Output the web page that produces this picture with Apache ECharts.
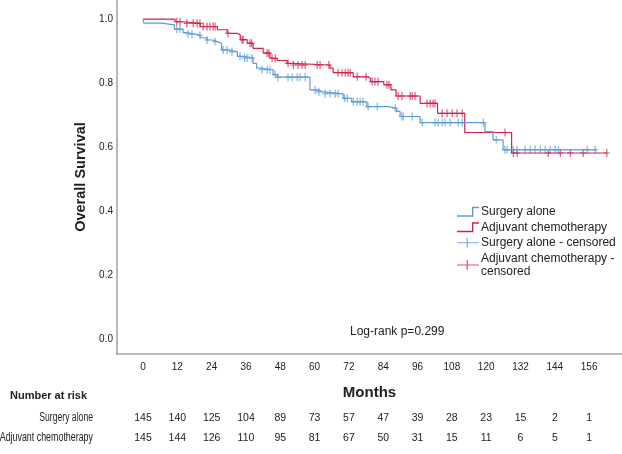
<!DOCTYPE html>
<html>
<head>
<meta charset="utf-8">
<script src="https://cdn.jsdelivr.net/npm/echarts@6/dist/echarts.min.js"></script>
<style>html,body{margin:0;padding:0;background:#fff}#c{width:622px;height:454px}</style>
</head>
<body>
<div id="c"></div>
<script>
// ---- data ----
const months = [0, 12, 24, 36, 48, 60, 72, 84, 96, 108, 120, 132, 144, 156];
const yTicks = [0, 0.2, 0.4, 0.6, 0.8, 1.0];
const riskSurgery = [145, 140, 125, 104, 89, 73, 57, 47, 39, 28, 23, 15, 2, 1];
const riskAdjuvant = [145, 144, 126, 110, 95, 81, 67, 50, 31, 15, 11, 6, 5, 1];

const surgeryTimes = [0, 0.3, 6.5, 11, 14, 15.3, 17.5, 20, 22.3, 24.5, 26, 27.5, 29.5, 33, 35, 38.5, 39.7, 41, 45.5, 47, 58.4, 61, 63, 70, 73, 78.3, 85.7, 88.7, 89.9, 96.9, 119.6, 122.4, 125.9, 158.8];
const surgerySurv = [1.0, 0.988, 0.982, 0.969, 0.958, 0.954, 0.950, 0.942, 0.935, 0.930, 0.925, 0.904, 0.898, 0.884, 0.879, 0.862, 0.847, 0.842, 0.827, 0.819, 0.779, 0.773, 0.767, 0.753, 0.742, 0.727, 0.722, 0.712, 0.696, 0.677, 0.649, 0.623, 0.592, 0.592];
const surgeryCensored = [11.8, 12.9, 15.7, 17.1, 19.9, 22.4, 25.2, 28, 29.4, 31.1, 33.9, 35.5, 36.4, 38.1, 41.6, 43.4, 44.4, 46.2, 47.2, 50.7, 52.1, 53.9, 54.9, 56.7, 60.2, 61.5, 63.7, 65.4, 67.2, 68.2, 70.5, 71.4, 73.5, 74.9, 75.9, 76.9, 78.7, 81.9, 88.2, 90.5, 91, 94.1, 97.6, 102.1, 103.2, 104.6, 105.6, 107.4, 110.2, 111.6, 119, 123.5, 126.5, 127.3, 129.4, 130.8, 133.6, 135.4, 137.1, 138.9, 140.6, 142.4, 144.1, 145.2, 155.3, 158.1];

const adjTimes = [0, 11.2, 14, 20, 26, 29.4, 33, 34, 36.4, 38.5, 42, 44.4, 46.9, 50.4, 52, 65.4, 66.5, 73.5, 78.5, 79.6, 84.2, 86.7, 88.5, 96.9, 103, 112.5, 128.9, 162.2];
const adjSurv = [1.0, 0.992, 0.987, 0.977, 0.967, 0.956, 0.951, 0.936, 0.925, 0.909, 0.894, 0.878, 0.871, 0.862, 0.857, 0.847, 0.833, 0.82, 0.815, 0.805, 0.795, 0.779, 0.76, 0.737, 0.706, 0.646, 0.582, 0.582];
const adjCensored = [11.8, 12.9, 15.3, 17.5, 18.9, 19.9, 21, 22.4, 23.4, 24.5, 25.2, 29.7, 34.6, 35, 37.4, 38.0, 43.4, 44.0, 45.1, 46.2, 50.7, 52.6, 54.2, 55.6, 56.7, 60.9, 61.9, 65.0, 68.2, 69.6, 70.7, 71.7, 72.4, 74.9, 78.0, 80.1, 81.1, 82.2, 85.3, 86.0, 89.2, 90.6, 93.4, 94.1, 95.1, 99.3, 100.4, 101.4, 102.1, 104.6, 106.3, 108.1, 109.8, 111.6, 126.6, 129.5, 130.8, 141.7, 145.9, 149.4, 153.9, 162.2];

// ---- helpers ----
function survAt(times, surv, t) {
  let v = surv[0];
  for (let i = 0; i < times.length; i++) { if (times[i] <= t) v = surv[i]; else break; }
  return v;
}
const BLUE = '#5b9bd8', RED = '#d4234f';
const FONT = 'Liberation Sans, Arial, sans-serif';
const XMIN = -9.1, XMAX = 167.5;
const crossSym = 'path://M0,3.45h3.3v-3.45h1.5v3.45h3.2v1.1h-3.2v3.45h-1.5v-3.45h-3.3z';
const stepIcon = 'path://M0,8.6L15,8.6L15,0L22,0L22,1.4L16.4,1.4L16.4,10L0,10Z';
const crossIcon = 'path://M0,4.4L9.6,4.4L9.6,0L10.8,0L10.8,4.4L22,4.4L22,5.6L10.8,5.6L10.8,10L9.6,10L9.6,5.6L0,5.6Z';

function riskAxis(offset, counts) {
  return {
    type: 'value', min: XMIN, max: XMAX, position: 'bottom', offset: offset, gridIndex: 0,
    axisLine: { show: false }, axisTick: { show: false }, splitLine: { show: false },
    axisLabel: { customValues: months, formatter: v => String(counts[months.indexOf(v)]),
      margin: 0, verticalAlign: 'middle', fontSize: 10.5, color: '#222', fontFamily: FONT }
  };
}

const chart = echarts.init(document.getElementById('c'), null, { renderer: 'canvas' });
chart.setOption({
  animation: false,
  backgroundColor: '#fff',
  grid: { left: 117, right: 0, top: 0, bottom: 100, containLabel: false, outerBoundsMode: 'none' },
  xAxis: [
    {
      type: 'value', min: XMIN, max: XMAX,
      axisLine: { show: true, onZero: false, lineStyle: { color: '#a0a0a0', width: 1.5 } },
      axisTick: { show: false }, splitLine: { show: false },
      axisLabel: { customValues: months, fontSize: 10, color: '#222', margin: 8, fontFamily: FONT },
      name: 'Months', nameLocation: 'middle', nameGap: 31,
      nameTextStyle: { fontWeight: 'bold', fontSize: 15, color: '#222', fontFamily: FONT }
    },
    riskAxis(64, riskSurgery),
    riskAxis(84, riskAdjuvant)
  ],
  yAxis: {
    type: 'value', min: -0.046, max: 1.06,
    axisLine: { show: true, onZero: false, lineStyle: { color: '#a0a0a0', width: 1.5 } },
    axisTick: { show: false }, splitLine: { show: false },
    axisLabel: { customValues: yTicks, formatter: v => v.toFixed(1), fontSize: 10, color: '#222', margin: 4, fontFamily: FONT },
    name: 'Overall Survival', nameLocation: 'middle', nameGap: 29,
    nameTextStyle: { fontWeight: 'bold', fontSize: 14.5, color: '#222', fontFamily: FONT }
  },
  legend: {
    orient: 'vertical', left: 452, top: 200, itemWidth: 22, itemHeight: 10, itemGap: 2,
    textStyle: { fontSize: 12, color: '#222', fontFamily: FONT, padding: [0, 0, 0, -3], lineHeight: 13.5 },
    itemStyle: { borderWidth: 0 },
    data: [
      { name: 'Surgery alone', icon: stepIcon },
      { name: 'Adjuvant chemotherapy', icon: stepIcon },
      { name: 'Surgery alone - censored', icon: crossIcon },
      { name: 'Adjuvant chemotherapy -\ncensored', icon: crossIcon }
    ]
  },
  graphic: [
    { type: 'text', x: 10, y: 396, style: { text: 'Number at risk', font: 'bold 11px ' + FONT, fill: '#222', verticalAlign: 'middle' } },
    { type: 'text', x: 93, y: 418, scaleX: 0.72, style: { text: 'Surgery alone', font: '12px ' + FONT, fill: '#222', align: 'right', verticalAlign: 'middle' } },
    { type: 'text', x: 93, y: 438, scaleX: 0.74, style: { text: 'Adjuvant chemotherapy', font: '12px ' + FONT, fill: '#222', align: 'right', verticalAlign: 'middle' } },
    { type: 'text', x: 350, y: 332, style: { text: 'Log-rank p=0.299', font: '12px ' + FONT, fill: '#222', verticalAlign: 'middle' } }
  ],
  series: [
    { name: 'Adjuvant chemotherapy', type: 'line', step: 'end', showSymbol: false, color: RED,
      lineStyle: { color: RED, width: 1.2 }, itemStyle: { color: RED },
      data: adjTimes.map((t, i) => [t, adjSurv[i]]) },
    { name: 'Surgery alone', type: 'line', step: 'end', showSymbol: false, color: BLUE,
      lineStyle: { color: BLUE, width: 1.2 }, itemStyle: { color: BLUE },
      data: surgeryTimes.map((t, i) => [t, surgerySurv[i]]) },
    { name: 'Adjuvant chemotherapy -\ncensored', type: 'scatter', symbol: crossSym, symbolSize: [6, 8], color: RED,
      itemStyle: { color: RED },
      data: adjCensored.map(t => [t, survAt(adjTimes, adjSurv, t)]) },
    { name: 'Surgery alone - censored', type: 'scatter', symbol: crossSym, symbolSize: [6, 8], color: BLUE,
      itemStyle: { color: BLUE },
      data: surgeryCensored.map(t => [t, survAt(surgeryTimes, surgerySurv, t)]) }
  ]
});
</script>
</body>
</html>
